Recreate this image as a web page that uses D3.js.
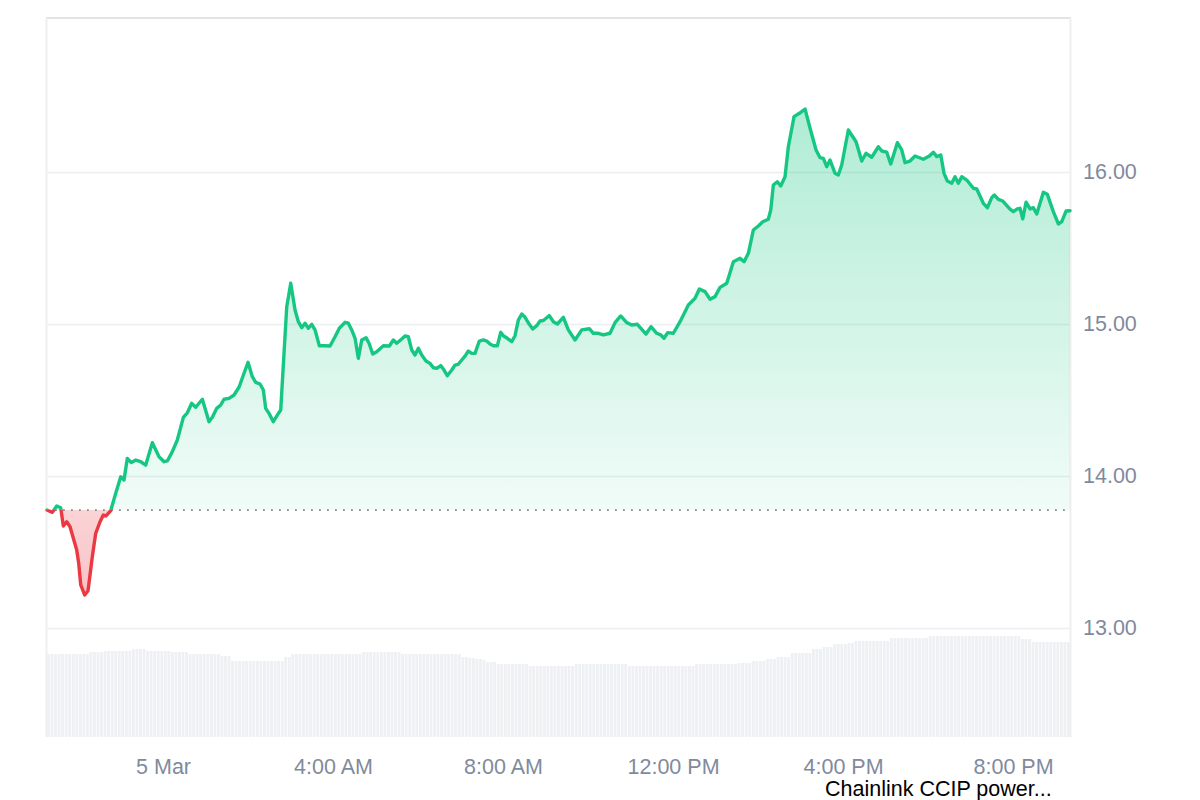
<!DOCTYPE html>
<html>
<head>
<meta charset="utf-8">
<script src="https://cdn.jsdelivr.net/npm/d3@7"></script>
<style>
  html, body { margin: 0; padding: 0; background: #fff; }
  svg { display: block; font-family: "Liberation Sans", Arial, Helvetica, sans-serif; }
</style>
</head>
<body>
<svg id="chart" width="1200" height="800"></svg>
<script>
// ---------------- DATA ----------------
// time in hours relative to 5 Mar 00:00
const hours = [
  -2.73, -2.605, -2.501, -2.407, -2.346, -2.266, -2.188, -2.031, -1.984, -1.936,
  -1.842, -1.765, -1.664, -1.584, -1.482, -1.405, -1.341, -1.231, -1.113, -0.995,
  -0.918, -0.840, -0.746, -0.642, -0.525, -0.407, -0.252, -0.094, 0.024, 0.101,
  0.219, 0.336, 0.478, 0.572, 0.675, 0.769, 0.925, 1.082, 1.160, 1.264,
  1.358, 1.435, 1.553, 1.671, 1.788, 1.906, 2.000, 2.101, 2.181, 2.282,
  2.360, 2.416, 2.494, 2.595, 2.689, 2.769,
  2.911, 3.005, 3.106, 3.184, 3.264, 3.341, 3.419, 3.499, 3.576, 3.678,
  3.812, 3.929, 4.047, 4.148, 4.282, 4.360, 4.440, 4.518, 4.595, 4.675,
  4.776, 4.847, 4.934, 5.028, 5.184, 5.325, 5.419, 5.499, 5.616, 5.694,
  5.772, 5.852, 5.929, 6.007, 6.087, 6.188, 6.282, 6.360, 6.440, 6.534,
  6.612, 6.689, 6.793, 6.871, 6.948, 7.028, 7.106, 7.184, 7.264, 7.341,
  7.442, 7.536, 7.616, 7.694, 7.772, 7.866, 7.946, 8.007, 8.101, 8.205,
  8.282, 8.360, 8.440, 8.518, 8.619, 8.699, 8.793, 8.871, 8.948, 9.089,
  9.184, 9.278, 9.419, 9.536, 9.694, 9.852, 10.031, 10.125, 10.242, 10.360,
  10.518, 10.635, 10.769, 10.911, 11.028, 11.160, 11.365, 11.482, 11.616, 11.711,
  11.788, 11.875, 12.007, 12.165, 12.360, 12.518, 12.619, 12.753, 12.871, 12.988,
  13.106, 13.264, 13.419, 13.576, 13.671, 13.772, 13.889, 14.007, 14.111, 14.242,
  14.299, 14.360, 14.454, 14.534, 14.635, 14.713, 14.847, 14.972, 15.106, 15.224,
  15.365, 15.459, 15.536, 15.616, 15.694, 15.812, 15.889, 15.969, 16.125, 16.306,
  16.440, 16.541, 16.675, 16.831, 16.911, 17.028, 17.122, 17.278, 17.381, 17.459,
  17.576, 17.694, 17.889, 18.031, 18.125, 18.205, 18.299, 18.376, 18.454, 18.558,
  18.635, 18.713, 18.793, 18.911, 19.066, 19.146, 19.301, 19.395, 19.499, 19.560,
  19.654, 19.758, 19.929, 20.007, 20.101, 20.165, 20.228, 20.306, 20.400, 20.478,
  20.558, 20.713, 20.807, 20.948, 21.066, 21.146, 21.247, 21.34
];
const prices = [
  13.776, 13.761, 13.803, 13.791, 13.671, 13.699, 13.666, 13.513, 13.426, 13.283,
  13.217, 13.245, 13.469, 13.623, 13.699, 13.743, 13.737, 13.772, 13.886, 13.995,
  13.974, 14.116, 14.088, 14.105, 14.094, 14.072, 14.219, 14.127, 14.094, 14.099,
  14.160, 14.237, 14.386, 14.416, 14.478, 14.452, 14.505, 14.357, 14.386, 14.445,
  14.467, 14.505, 14.511, 14.533, 14.584, 14.676, 14.748, 14.653, 14.616, 14.605,
  14.566, 14.445, 14.412, 14.357, 14.401, 14.434,
  15.114, 15.268, 15.092, 15.015, 14.976, 15.005, 14.972, 14.998, 14.961, 14.857,
  14.857, 14.855, 14.916, 14.972, 15.011, 15.005, 14.961, 14.906, 14.774, 14.895,
  14.910, 14.873, 14.803, 14.818, 14.857, 14.855, 14.895, 14.873, 14.901, 14.921,
  14.916, 14.829, 14.796, 14.840, 14.796, 14.757, 14.741, 14.712, 14.709, 14.726,
  14.697, 14.660, 14.697, 14.730, 14.735, 14.763, 14.789, 14.822, 14.807, 14.807,
  14.888, 14.895, 14.888, 14.868, 14.857, 14.857, 14.945, 14.923, 14.906, 14.884,
  14.923, 15.026, 15.066, 15.044, 14.998, 14.967, 14.989, 15.020, 15.023, 15.055,
  15.015, 15.000, 15.044, 14.961, 14.895, 14.961, 14.969, 14.939, 14.939, 14.928,
  14.939, 15.009, 15.053, 15.009, 14.993, 14.998, 14.934, 14.982, 14.939, 14.928,
  14.906, 14.943, 14.939, 15.015, 15.125, 15.169, 15.230, 15.213, 15.163, 15.180,
  15.241, 15.268, 15.410, 15.432, 15.410, 15.465, 15.618, 15.645, 15.673, 15.689,
  15.750, 15.914, 15.936, 15.908, 15.969, 16.166, 16.364, 16.386, 16.414, 16.288,
  16.145, 16.094, 16.090, 16.035, 16.079, 15.991, 15.980, 16.046, 16.276, 16.199,
  16.072, 16.123, 16.097, 16.166, 16.138, 16.130, 16.053, 16.193, 16.145, 16.061,
  16.072, 16.105, 16.084, 16.105, 16.130, 16.101, 16.112, 15.991, 15.941, 15.926,
  15.969, 15.926, 15.969, 15.947, 15.893, 15.888, 15.794, 15.765, 15.831, 15.849,
  15.820, 15.809, 15.755, 15.739, 15.757, 15.761, 15.691, 15.801, 15.757, 15.765,
  15.724, 15.866, 15.853, 15.739, 15.658, 15.673, 15.743, 15.745
];
// volume bars, one per 5 minutes starting at volStartHour (arbitrary units)
const volStartHour = -2.73;
const volStepMinutes = 5;
const volume = [
  83,83,83,83,83,83,83,83,83,83,83,83,
  85,85,85,85,
  86,86,86,86,86,86,86,86,
  88,88,88,88,
  86,86,86,86,86,86,86,
  85,85,85,85,85,
  83,83,83,83,83,83,83,83,83,
  81,81,81,
  76,76,76,76,76,76,76,76,76,76,76,76,76,76,76,
  80,80,
  83,83,83,83,83,83,83,83,83,83,83,83,83,83,83,83,83,83,83,83,
  85,85,85,85,85,85,85,85,85,85,85,
  83,83,83,83,83,83,83,83,83,83,83,83,83,83,83,83,83,
  80,80,79,79,78,78,77,
  75,75,75,
  73,73,73,73,73,73,73,73,73,
  71,71,71,71,71,71,71,71,71,71,71,71,71,
  73,73,73,73,73,73,73,73,73,73,73,73,73,73,73,
  71,71,71,71,71,71,71,71,71,71,71,71,71,71,71,71,71,71,71,
  73,73,73,73,73,73,73,73,73,73,73,73,
  74,74,74,74,
  76,76,76,76,
  78,78,78,
  80,80,80,80,
  84,84,84,84,84,84,
  88,88,88,
  90,90,90,
  93,93,93,93,
  94,94,
  96,96,96,96,96,96,96,96,96,96,
  99,99,99,99,99,99,99,99,99,99,99,
  101,101,101,101,101,101,101,101,101,101,101,101,101,101,101,101,101,101,101,101,101,101,101,101,101,101,
  98,98,98,
  95,95,95,95,95,95,95,95,95,95,95
];
const yDomain = [12.283, 17.013];
const volDomainMax = 120;
const yTicks = [13, 14, 15, 16];
const xTickHours = [0, 4, 8, 12, 16, 20];
const xTickLabels = ["5 Mar", "4:00 AM", "8:00 AM", "12:00 PM", "4:00 PM", "8:00 PM"];
const noteText = "Chainlink CCIP power...";

// ---------------- CHART ----------------
const plot = { left: 47, right: 1070, top: 18, bottom: 737 };
const GREEN = "#16c784", RED = "#ea3943", AXIS = "#808a9d";

const base = Date.UTC(2025, 2, 5);
const toDate = h => new Date(base + h * 3600000);
const data = hours.map((h, i) => ({ t: toDate(h), p: prices[i] }));
const baseline = prices[0];

const x = d3.scaleTime().domain(d3.extent(data, d => d.t)).range([plot.left, plot.right]);
const y = d3.scaleLinear().domain(yDomain).range([plot.bottom, plot.top]);
const yVol = d3.scaleLinear().domain([0, volDomainMax]).range([plot.bottom, plot.bottom - volDomainMax]);

const svg = d3.select("#chart");
const defs = svg.append("defs");

defs.append("clipPath").attr("id", "plotClip").append("rect")
  .attr("x", plot.left).attr("y", plot.top)
  .attr("width", plot.right - plot.left).attr("height", plot.bottom - plot.top);
defs.append("clipPath").attr("id", "aboveClip").append("rect")
  .attr("x", plot.left - 5).attr("y", 0)
  .attr("width", plot.right - plot.left + 10).attr("height", y(baseline));
defs.append("clipPath").attr("id", "belowClip").append("rect")
  .attr("x", plot.left - 5).attr("y", y(baseline))
  .attr("width", plot.right - plot.left + 10).attr("height", plot.bottom - y(baseline) + 10);

const gGreen = defs.append("linearGradient").attr("id", "gGreen")
  .attr("gradientUnits", "userSpaceOnUse")
  .attr("x1", 0).attr("x2", 0)
  .attr("y1", y(d3.max(prices))).attr("y2", y(baseline));
gGreen.append("stop").attr("offset", 0).attr("stop-color", GREEN).attr("stop-opacity", 0.34);
gGreen.append("stop").attr("offset", 1).attr("stop-color", GREEN).attr("stop-opacity", 0.06);

const gRed = defs.append("linearGradient").attr("id", "gRed")
  .attr("gradientUnits", "userSpaceOnUse")
  .attr("x1", 0).attr("x2", 0)
  .attr("y1", y(baseline)).attr("y2", y(d3.min(prices)));
gRed.append("stop").attr("offset", 0).attr("stop-color", RED).attr("stop-opacity", 0.22);
gRed.append("stop").attr("offset", 1).attr("stop-color", RED).attr("stop-opacity", 0.3);

// volume bars
const step = x(toDate(volStepMinutes / 60)) - x(toDate(0));
svg.append("g").attr("clip-path", "url(#plotClip)")
  .selectAll("rect").data(volume).join("rect")
  .attr("x", (d, i) => x(toDate(volStartHour + i * volStepMinutes / 60)))
  .attr("width", Math.max(0.5, step - 0.7))
  .attr("y", d => yVol(d))
  .attr("height", d => plot.bottom - yVol(d))
  .attr("fill", "#eef0f3");

// gridlines
svg.append("g").selectAll("line").data(yTicks).join("line")
  .attr("x1", plot.left).attr("x2", plot.right)
  .attr("y1", d => Math.round(y(d)) + 0.5).attr("y2", d => Math.round(y(d)) + 0.5)
  .attr("stroke", "#eceef1").attr("stroke-width", 1.5);

// frame (top, left, right)
svg.append("line").attr("x1", plot.left - 1).attr("x2", plot.right + 1)
  .attr("y1", plot.top).attr("y2", plot.top).attr("stroke", "#e4e4e4").attr("stroke-width", 2);
svg.append("line").attr("x1", plot.left - 0.5).attr("x2", plot.left - 0.5)
  .attr("y1", plot.top).attr("y2", plot.bottom).attr("stroke", "#efefef").attr("stroke-width", 2);
svg.append("line").attr("x1", plot.right + 0.5).attr("x2", plot.right + 0.5)
  .attr("y1", plot.top).attr("y2", plot.bottom).attr("stroke", "#efefef").attr("stroke-width", 2);

// areas
const area = d3.area().x(d => x(d.t)).y0(y(baseline)).y1(d => y(d.p));
const line = d3.line().x(d => x(d.t)).y(d => y(d.p));

svg.append("path").datum(data).attr("d", area)
  .attr("fill", "url(#gGreen)").attr("clip-path", "url(#aboveClip)");
svg.append("path").datum(data).attr("d", area)
  .attr("fill", "url(#gRed)").attr("clip-path", "url(#belowClip)");

// baseline dotted
svg.append("line")
  .attr("x1", plot.left).attr("x2", plot.right - 2)
  .attr("y1", y(baseline)).attr("y2", y(baseline))
  .attr("stroke", "#868b94").attr("stroke-width", 1.8)
  .attr("stroke-dasharray", "1.8,6.2");

// lines
svg.append("path").datum(data).attr("d", line)
  .attr("fill", "none").attr("stroke", GREEN).attr("stroke-width", 3.4)
  .attr("stroke-linejoin", "round").attr("stroke-linecap", "round")
  .attr("clip-path", "url(#aboveClip)");
svg.append("path").datum(data).attr("d", line)
  .attr("fill", "none").attr("stroke", RED).attr("stroke-width", 3.4)
  .attr("stroke-linejoin", "round").attr("stroke-linecap", "round")
  .attr("clip-path", "url(#belowClip)");

// axes
const fontSize = 21.5;
const xAxis = d3.axisBottom(x)
  .tickValues(xTickHours.map(toDate))
  .tickFormat((d, i) => xTickLabels[i])
  .tickSize(0).tickPadding(21.5);
const gx = svg.append("g").attr("transform", `translate(0,${plot.bottom})`).call(xAxis);
gx.select(".domain").remove();
gx.selectAll("text").attr("fill", AXIS).style("font-size", fontSize + "px")
  .style("font-family", '"Liberation Sans", Arial, sans-serif');

const yAxis = d3.axisRight(y).tickValues(yTicks).tickFormat(d3.format(".2f"))
  .tickSize(0).tickPadding(13);
const gy = svg.append("g").attr("transform", `translate(${plot.right},0)`).call(yAxis);
gy.select(".domain").remove();
gy.selectAll("text").attr("fill", AXIS).style("font-size", fontSize + "px")
  .style("font-family", '"Liberation Sans", Arial, sans-serif');

// annotation text
svg.append("text").attr("x", 825).attr("y", 796)
  .attr("fill", "#000").style("font-size", "21.5px")
  .text(noteText);
</script>
</body>
</html>
